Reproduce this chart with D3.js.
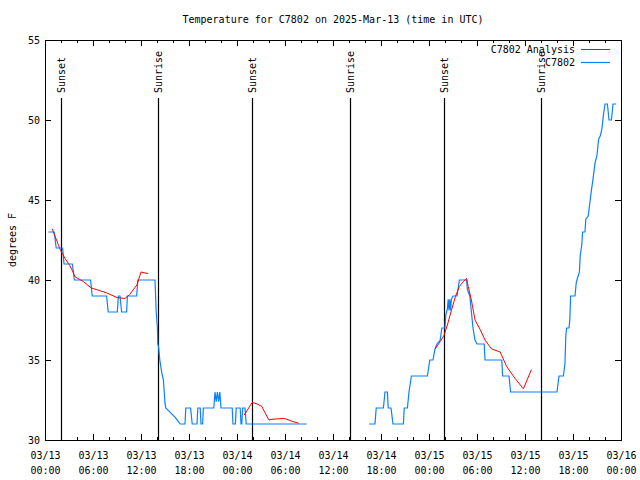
<!DOCTYPE html>
<html>
<head>
<meta charset="utf-8">
<script src="https://cdn.jsdelivr.net/npm/d3@7"></script>
<style>
  html, body { margin: 0; padding: 0; background: #fff; }
  svg { display: block; }
  text { font-family: "DejaVu Sans Mono", "Liberation Mono", monospace; font-size: 10px; fill: #000; }
</style>
</head>
<body>
<svg id="chart" width="640" height="480"></svg>
<script>
// ---- Data (hours after 2025-03-13 00:00 UTC) ----
const titleText = "Temperature for C7802 on 2025-Mar-13 (time in UTC)";
const yLabelText = "degrees F";
const seriesNames = ["C7802 Analysis", "C7802"];
const yTicks = [30, 35, 40, 45, 50, 55];
const xTickHours = [0, 6, 12, 18, 24, 30, 36, 42, 48, 54, 60, 66, 72];
const xTickLabels = [
  ["03/13","00:00"],["03/13","06:00"],["03/13","12:00"],["03/13","18:00"],
  ["03/14","00:00"],["03/14","06:00"],["03/14","12:00"],["03/14","18:00"],
  ["03/15","00:00"],["03/15","06:00"],["03/15","12:00"],["03/15","18:00"],
  ["03/16","00:00"]
];
const sunEventHours = [2.0, 14.12, 25.88, 38.12, 49.88, 62.0];
const sunEventNames = ["Sunset", "Sunrise", "Sunset", "Sunrise", "Sunset", "Sunrise"];

// Observed C7802 (null = gap)
const obsHours = [
  0.42,1.15,1.25,1.4,2.2,2.375,3.42,3.67,5.7,5.9,7.7,7.9,9.04,9.17,9.375,9.58,10.2,10.3,11.46,11.6,
  13.75,13.9,14.05,14.1,14.2,14.35,14.6,14.8,15.0,15.1,15.5,15.9,16.3,16.6,16.9,17.5,17.6,18.2,18.4,
  19.0,19.1,19.4,19.5,19.7,19.8,21.1,21.25,21.4,21.55,21.7,21.85,22.0,23.4,23.5,23.8,23.9,24.4,24.5,
  24.6,24.7,25.0,25.15,32.7,
  null,
  40.5,41.25,41.4,42.3,42.5,42.8,42.9,43.25,43.5,44.8,44.9,45.3,45.5,45.8,47.8,48.1,48.5,48.75,49.0,
  49.4,49.6,50.0,50.1,50.3,50.4,50.5,50.6,50.7,50.8,51.0,51.5,51.8,52.7,52.8,53.1,53.3,53.5,53.75,
  54.0,54.9,55.0,57.1,57.2,58.0,58.2,64.0,64.25,64.8,65.0,65.1,65.2,65.5,65.6,65.7,66.25,66.4,66.5,
  66.8,66.9,67.1,67.2,67.5,67.6,67.9,68.1,68.3,68.5,68.75,69.0,69.2,69.4,69.6,69.8,70.0,70.3,70.5,
  70.8,71.0,71.4
];
const obsTemps = [
  43.0,43.0,42.6,42.0,42.0,41.0,41.0,40.0,40.0,39.0,39.0,38.0,38.0,39.0,39.0,38.0,38.0,39.0,39.0,40.0,
  40.0,38.0,37.0,36.0,35.8,35.0,34.2,33.75,32.3,32.0,31.8,31.6,31.4,31.2,31.0,31.0,32.0,32.0,31.0,
  31.0,32.0,32.0,31.0,31.0,32.0,32.0,33.0,32.4,33.0,32.4,33.0,32.0,32.0,31.0,31.0,32.0,32.0,31.0,
  31.0,32.0,32.0,31.0,31.0,
  null,
  31.0,31.0,32.0,32.0,33.0,33.0,32.0,32.0,31.0,31.0,32.0,32.0,33.0,34.0,34.0,35.0,35.0,35.7,36.0,
  36.25,37.0,37.0,37.8,38.2,38.8,38.1,38.8,38.1,38.8,39.0,39.0,40.0,40.0,39.4,39.0,38.0,37.0,36.25,
  36.0,36.0,35.0,35.0,34.0,34.0,33.0,33.0,34.0,34.0,34.8,36.5,37.0,37.0,37.5,39.0,39.0,39.8,40.0,
  40.5,41.5,42.2,43.0,43.0,43.8,44.0,44.8,45.6,46.3,47.3,47.8,48.8,49.0,49.4,50.3,51.0,51.0,50.0,
  50.0,51.0,51.0
];

// Analysis (null = gap)
const anaHours = [
  0.9,1.67,1.9,2.5,3.1,3.5,3.75,4.8,5.8,7.7,9.0,10.0,10.6,11.5,12.0,12.9,
  null,
  24.9,25.9,26.5,27.1,27.5,28.0,28.5,29.8,30.2,31.0,31.7,
  null,
  48.75,49.4,49.9,50.3,50.8,51.3,51.8,52.3,52.7,52.9,53.3,53.75,54.4,55.0,55.8,56.9,57.7,58.75,59.8,60.8
];
const anaTemps = [
  43.2,42.2,41.9,41.35,40.9,40.5,40.2,39.9,39.5,39.2,38.9,38.85,39.1,39.7,40.5,40.4,
  null,
  31.56,32.35,32.25,32.1,31.7,31.25,31.3,31.35,31.3,31.15,31.05,
  null,
  35.67,36.15,36.56,37.19,38.1,38.96,39.6,39.9,40.1,39.6,38.75,37.5,36.9,36.25,35.7,35.5,34.6,33.85,33.2,34.4
];

// ---- Drawing ----
const W = 640, H = 480;
const M = { left: 45, right: 621, top: 40, bottom: 440 };
const base = Date.UTC(2025, 2, 13, 0, 0);
const toDate = h => new Date(base + h * 3600 * 1000);

const svg = d3.select("#chart");
svg.append("rect").attr("width", W).attr("height", H).attr("fill", "#fff");

const x = d3.scaleUtc().domain([toDate(0), toDate(72)]).range([M.left, M.right]);
const y = d3.scaleLinear().domain([30, 55]).range([M.bottom, M.top]);

const minorHours = d3.range(0, 73, 2).filter(h => h % 6 !== 0);

// Bottom axis major with labels
const gBottom = svg.append("g").attr("transform", `translate(0,${M.bottom})`)
  .call(d3.axisBottom(x).tickValues(xTickHours.map(toDate)).tickSize(-6).tickPadding(9)
    .tickFormat((d, i) => xTickLabels[i].join("|")));
gBottom.selectAll(".tick text").each(function(d, i) {
  const t = d3.select(this);
  const parts = xTickLabels[i];
  t.text(null);
  t.append("tspan").attr("x", 0).attr("dy", "0.71em").text(parts[0]);
  t.append("tspan").attr("x", 0).attr("dy", "1.5em").text(parts[1]);
});
gBottom.selectAll(".tick text").attr("dy", null).attr("y", 12);
// minor bottom
svg.append("g").attr("transform", `translate(0,${M.bottom})`)
  .call(d3.axisBottom(x).tickValues(minorHours.map(toDate)).tickSize(-3).tickFormat(""));
// top axis
svg.append("g").attr("transform", `translate(0,${M.top})`)
  .call(d3.axisTop(x).tickValues(xTickHours.map(toDate)).tickSize(-6).tickFormat(""));
svg.append("g").attr("transform", `translate(0,${M.top})`)
  .call(d3.axisTop(x).tickValues(minorHours.map(toDate)).tickSize(-3).tickFormat(""));
// left / right
svg.append("g").attr("transform", `translate(${M.left},0)`)
  .call(d3.axisLeft(y).tickValues(yTicks).tickSize(-6).tickPadding(5).tickFormat(d3.format("d")));
svg.append("g").attr("transform", `translate(${M.right},0)`)
  .call(d3.axisRight(y).tickValues(yTicks).tickSize(-6).tickFormat(""));

svg.selectAll(".domain").remove();
svg.selectAll(".tick line").attr("stroke", "#000").attr("shape-rendering", "crispEdges");
svg.selectAll(".tick text").attr("font-family", null).attr("font-size", null).attr("fill", "#000");

// frame
svg.append("rect").attr("x", M.left).attr("y", M.top)
  .attr("width", M.right - M.left).attr("height", M.bottom - M.top)
  .attr("fill", "none").attr("stroke", "#000").attr("stroke-width", 1)
  .attr("shape-rendering", "crispEdges");

// sun events
const sun = svg.append("g");
sunEventHours.forEach((h, i) => {
  const xx = Math.round(x(toDate(h))) + 0.5;
  sun.append("line").attr("x1", xx).attr("x2", xx).attr("y1", 98).attr("y2", M.bottom)
    .attr("stroke", "#000").attr("stroke-width", 1.2);
  sun.append("text").attr("transform", `translate(${xx},93) rotate(-90)`)
    .attr("dy", "0.35em").attr("text-anchor", "start").text(sunEventNames[i]);
});

// lines
const line = d3.line()
  .defined(d => d.v != null && d.h != null)
  .x(d => x(toDate(d.h)))
  .y(d => y(d.v));
const obs = obsHours.map((h, i) => ({ h, v: obsTemps[i] }));
const ana = anaHours.map((h, i) => ({ h, v: anaTemps[i] }));

svg.append("path").datum(obs).attr("d", line)
  .attr("fill", "none").attr("stroke", "#0a80ff").attr("stroke-width", 1.2);
svg.append("path").datum(ana).attr("d", line)
  .attr("fill", "none").attr("stroke", "#ff0000").attr("stroke-width", 1);

// legend
const colors = ["#ff0000", "#0a80ff"];
seriesNames.forEach((name, i) => {
  const yy = 49 + i * 13;
  svg.append("text").attr("x", 575).attr("y", yy).attr("dy", "0.35em")
    .attr("text-anchor", "end").text(name);
  svg.append("line").attr("x1", 581).attr("x2", 610).attr("y1", yy + 0.5).attr("y2", yy + 0.5)
    .attr("stroke", colors[i]).attr("stroke-width", i === 0 ? 1 : 1.2);
});

// title
svg.append("text").attr("x", (M.left + M.right) / 2).attr("y", 19).attr("dy", "0.35em")
  .attr("text-anchor", "middle").text(titleText);

// y label
svg.append("text").attr("transform", `translate(12,${(M.top + M.bottom) / 2}) rotate(-90)`)
  .attr("dy", "0.35em").attr("text-anchor", "middle").text(yLabelText);
</script>
</body>
</html>
